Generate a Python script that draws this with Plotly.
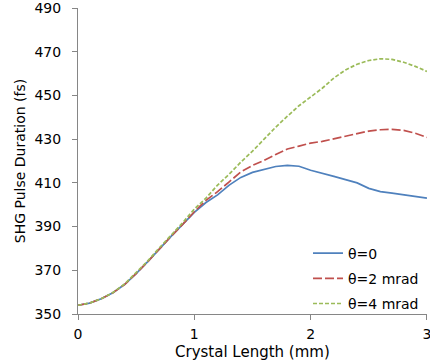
import plotly.graph_objects as go

crystal_length = [0.0, 0.1, 0.2, 0.3, 0.4, 0.5, 0.6, 0.7, 0.8, 0.9, 1.0,
                  1.1, 1.2, 1.3, 1.4, 1.5, 1.6, 1.7, 1.8, 1.9, 2.0,
                  2.1, 2.2, 2.3, 2.4, 2.5, 2.6, 2.7, 2.8, 2.9, 3.0]

theta_0 = [354.0, 355.0, 357.0, 359.7, 363.5, 368.5, 374.0, 380.0, 385.5, 391.0, 396.5,
           401.0, 404.5, 409.0, 412.5, 414.8, 416.3, 417.5, 418.0, 417.6, 415.8,
           414.5, 413.0, 411.5, 410.0, 407.5, 406.0, 405.3, 404.6, 403.7, 403.0]

theta_2 = [354.0, 355.0, 357.0, 359.7, 363.5, 368.5, 374.0, 380.0, 385.5, 391.0, 396.8,
           402.0, 406.0, 410.5, 415.0, 418.0, 420.3, 423.0, 425.5, 426.8, 428.2,
           429.0, 430.2, 431.3, 432.5, 433.7, 434.3, 434.5, 434.0, 432.7, 430.8]

theta_4 = [354.0, 355.0, 357.0, 359.8, 363.7, 368.8, 374.3, 380.3, 386.0, 391.8, 398.0,
           403.0, 409.0, 414.0, 419.5, 424.5, 430.0, 435.5, 440.5, 445.3, 449.3,
           453.3, 458.0, 461.7, 464.3, 466.0, 466.8, 466.5, 465.2, 463.3, 461.0]

series_names = ["θ=0", "θ=2 mrad", "θ=4 mrad"]
y_ticks = [350, 370, 390, 410, 430, 450, 470, 490]
x_ticks = [0, 1, 2, 3]
x_title = "Crystal Length (mm)"
y_title = "SHG Pulse Duration (fs)"

FONT = "DejaVu Sans"
AXIS_COLOR = "#868686"

fig = go.Figure()
fig.add_trace(go.Scatter(x=crystal_length, y=theta_0, mode="lines", name=series_names[0],
                         legendgroup="a",
                         line=dict(color="#4F81BD", width=1.7)))
fig.add_trace(go.Scatter(x=crystal_length, y=theta_2, mode="lines", name=series_names[1],
                         legendgroup="b",
                         line=dict(color="#C0504D", width=1.7, dash="9px,3px")))
fig.add_trace(go.Scatter(x=crystal_length, y=theta_4, mode="lines", name=series_names[2],
                         legendgroup="c",
                         line=dict(color="#9BBB59", width=1.7, dash="4px,2px")))

fig.update_layout(
    width=430, height=362,
    margin=dict(l=78, r=3, t=8, b=48),
    paper_bgcolor="white", plot_bgcolor="white",
    font=dict(family=FONT, size=14, color="#000000"),
    showlegend=True,
    legend=dict(x=0.659, y=0.25, xanchor="left", yanchor="top",
                bgcolor="rgba(0,0,0,0)", font=dict(family=FONT, size=14),
                itemwidth=30, tracegroupgap=4),
    xaxis=dict(range=[0, 3.0005], tickvals=x_ticks, ticks="outside", ticklen=5,
               tickcolor=AXIS_COLOR, showline=True, linecolor=AXIS_COLOR, linewidth=1,
               showgrid=False, zeroline=False, automargin=False,
               ticklabelstandoff=2, ticklabeloverflow="allow"),
    yaxis=dict(range=[350, 490.02], tickvals=y_ticks, ticks="outside", ticklen=5,
               tickcolor=AXIS_COLOR, showline=True, linecolor=AXIS_COLOR, linewidth=1,
               showgrid=False, zeroline=False, automargin=False,
               ticklabelstandoff=8, ticklabeloverflow="allow",
               title=dict(text=y_title, standoff=5, font=dict(size=14))),
    annotations=[dict(text=x_title, x=0.5, y=-0.124, xref="paper", yref="paper",
                      xanchor="center", yanchor="middle", showarrow=False,
                      font=dict(family=FONT, size=15, color="#000000"))],
)

fig.write_html("out.html", post_script="document.body.style.margin='0px';",
               config={"displayModeBar": False})
